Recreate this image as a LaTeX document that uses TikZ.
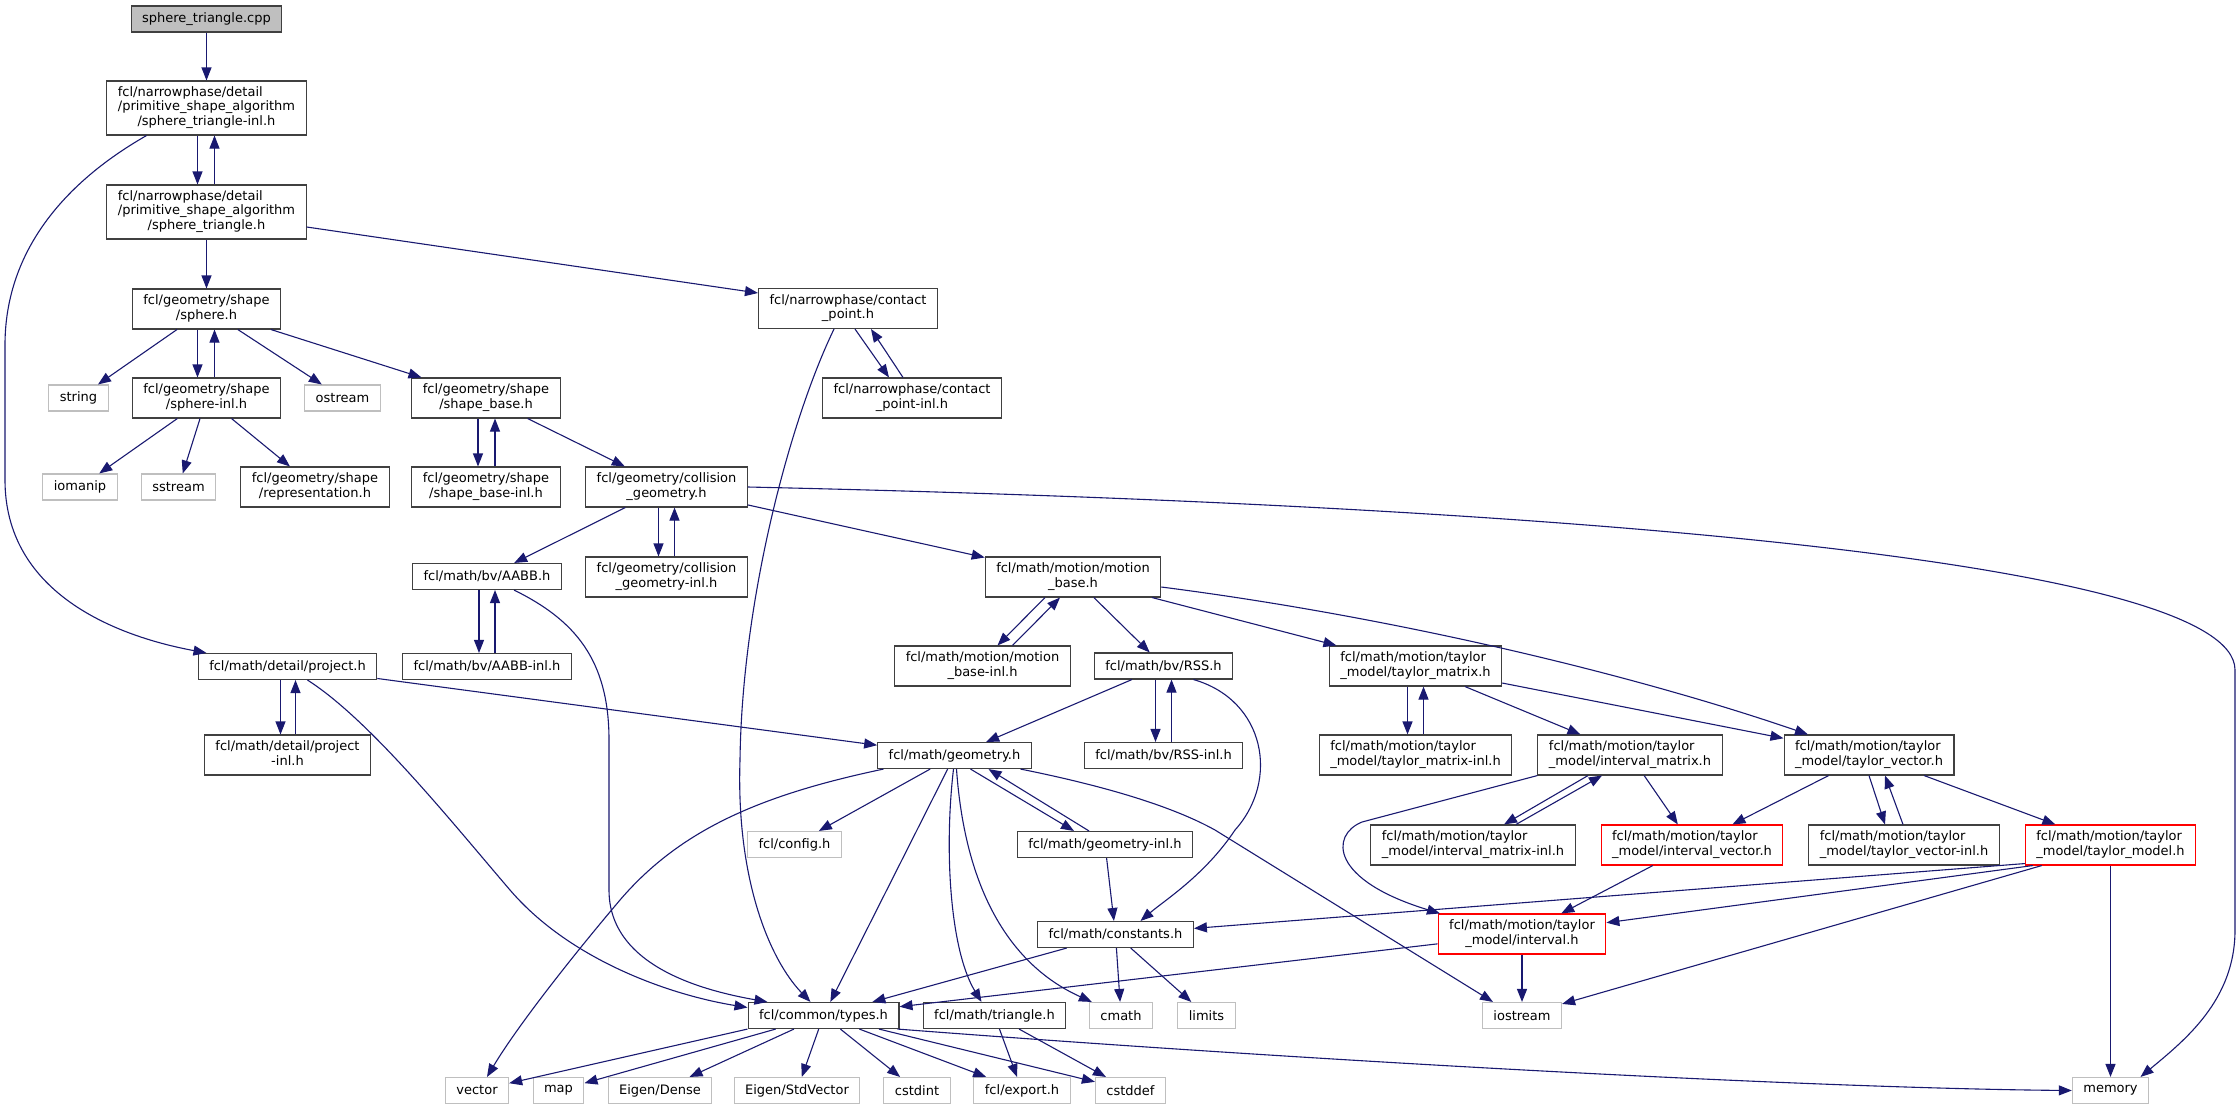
\documentclass[tikz,border=0pt]{standalone}
\usepackage{fontspec}
\setmainfont{DejaVu Sans}
\usetikzlibrary{arrows.meta}
\definecolor{linkblue}{HTML}{191970}
\definecolor{sysgray}{HTML}{BFBFBF}
\definecolor{boxgray}{HTML}{404040}
\definecolor{boxred}{HTML}{FF0000}
\newcommand{\hdrtwo}[2]{\begin{tabular}{@{}l@{}}#1\\\multicolumn{1}{@{}c@{}}{#2}\end{tabular}}
\newcommand{\hdrthree}[3]{\begin{tabular}{@{}l@{}}#1\\#2\\\multicolumn{1}{@{}c@{}}{#3}\end{tabular}}
\begin{document}
\begin{tikzpicture}[x=1pt,y=-1pt,
  hdr/.style={draw=boxgray, line width=1.1pt, rectangle, inner xsep=11pt, inner ysep=2pt,
    align=center, font=\fontsize{13pt}{14.5pt}\selectfont},
  one/.style={hdr, minimum height=26pt},
  two/.style={hdr, minimum height=40pt},
  three/.style={hdr, minimum height=54pt},
  sys/.style={one, draw=sysgray},
  trunc/.style={two, draw=boxred},
  link/.style={draw=linkblue, line width=1.1pt, -{Triangle[length=13pt,width=10pt]}}]
\useasboundingbox (0,0) rectangle (2240,1109);
% rows of the include graph
\node[one, fill=sysgray] (cpp) at (206.5,19) {sphere\_triangle.cpp};
\node[three] (stinl) at (206.5,108) {\hdrthree{fcl/narrowphase/detail}{/primitive\_shape\_algorithm}{/sphere\_triangle-inl.h}};
\node[three] (stri) at (206.5,212) {\hdrthree{fcl/narrowphase/detail}{/primitive\_shape\_algorithm}{/sphere\_triangle.h}};
\node[two] (sphere) at (206.5,309) {\hdrtwo{fcl/geometry/shape}{/sphere.h}};
\node[two] (cpoint) at (848,308.5) {\hdrtwo{fcl/narrowphase/contact}{\_point.h}};
\node[sys] (str) at (78.5,398) {string};
\node[two] (sphinl) at (206.5,398) {\hdrtwo{fcl/geometry/shape}{/sphere-inl.h}};
\node[sys] (ostr) at (342.5,398) {ostream};
\node[two] (shbase) at (486,398) {\hdrtwo{fcl/geometry/shape}{/shape\_base.h}};
\node[two] (cpinl) at (912,398) {\hdrtwo{fcl/narrowphase/contact}{\_point-inl.h}};
\node[sys] (ioman) at (80,487) {iomanip};
\node[sys] (sstr) at (178.5,487) {sstream};
\node[two] (repr) at (315,487) {\hdrtwo{fcl/geometry/shape}{/representation.h}};
\node[two] (shbinl) at (486,487) {\hdrtwo{fcl/geometry/shape}{/shape\_base-inl.h}};
\node[two] (colgeo) at (666.5,487) {\hdrtwo{fcl/geometry/collision}{\_geometry.h}};
\node[one] (aabb) at (487,576.5) {fcl/math/bv/AABB.h};
\node[two] (colinl) at (666.5,577) {\hdrtwo{fcl/geometry/collision}{\_geometry-inl.h}};
\node[two] (mbase) at (1073,577) {\hdrtwo{fcl/math/motion/motion}{\_base.h}};
\node[one] (proj) at (287.5,666.5) {fcl/math/detail/project.h};
\node[one] (aabbinl) at (487,666.5) {fcl/math/bv/AABB-inl.h};
\node[two] (mbinl) at (982.5,666) {\hdrtwo{fcl/math/motion/motion}{\_base-inl.h}};
\node[one] (rss) at (1163.5,666) {fcl/math/bv/RSS.h};
\node[two] (tmat) at (1415.5,666) {\hdrtwo{fcl/math/motion/taylor}{\_model/taylor\_matrix.h}};
\node[two] (projinl) at (287.5,755) {\hdrtwo{fcl/math/detail/project}{-inl.h}};
\node[one] (geom) at (954.5,755.5) {fcl/math/geometry.h};
\node[one] (rssinl) at (1163.5,755.5) {fcl/math/bv/RSS-inl.h};
\node[two] (tminl) at (1415.5,755) {\hdrtwo{fcl/math/motion/taylor}{\_model/taylor\_matrix-inl.h}};
\node[two] (imat) at (1630,755) {\hdrtwo{fcl/math/motion/taylor}{\_model/interval\_matrix.h}};
\node[two] (tvec) at (1869,755) {\hdrtwo{fcl/math/motion/taylor}{\_model/taylor\_vector.h}};
\node[sys] (config) at (794.5,844.5) {fcl/config.h};
\node[one] (geominl) at (1105,844.5) {fcl/math/geometry-inl.h};
\node[two] (iminl) at (1473,845) {\hdrtwo{fcl/math/motion/taylor}{\_model/interval\_matrix-inl.h}};
\node[trunc] (ivec) at (1692,845) {\hdrtwo{fcl/math/motion/taylor}{\_model/interval\_vector.h}};
\node[two] (tvinl) at (1904,845) {\hdrtwo{fcl/math/motion/taylor}{\_model/taylor\_vector-inl.h}};
\node[trunc] (tmodel) at (2110.5,845) {\hdrtwo{fcl/math/motion/taylor}{\_model/taylor\_model.h}};
\node[one] (consts) at (1115.5,934.5) {fcl/math/constants.h};
\node[trunc] (interval) at (1522,934) {\hdrtwo{fcl/math/motion/taylor}{\_model/interval.h}};
\node[one] (types) at (823.5,1015.5) {fcl/common/types.h};
\node[one] (tri) at (994.5,1015.5) {fcl/math/triangle.h};
\node[sys] (cmath) at (1121,1015.5) {cmath};
\node[sys] (limits) at (1206.5,1015.5) {limits};
\node[sys] (iostr) at (1522,1015.5) {iostream};
\node[sys] (vector) at (477,1090.5) {vector};
\node[sys] (map) at (558.5,1090.5) {map};
\node[sys] (dense) at (660,1090.5) {Eigen/Dense};
\node[sys] (stdvec) at (797,1090.5) {Eigen/StdVector};
\node[sys] (cstdint) at (917,1090.5) {cstdint};
\node[sys] (export) at (1022,1090.5) {fcl/export.h};
\node[sys] (cstddef) at (1130.5,1090.5) {cstddef};
\node[sys] (memory) at (2110.5,1090.5) {memory};
% includes
\draw[link] (cpp) -- (stinl);
\draw[link] ([xshift=-9pt]stinl.south) -- ([xshift=-9pt]stri.north);
\draw[link] ([xshift=8pt]stri.north) -- ([xshift=8pt]stinl.south);
\draw[link] ([xshift=-60pt]stinl.south) .. controls (60,185) and (5,255) .. (5,345) -- (5,480) .. controls (5,590) and (110,635) .. ([xshift=-81pt]proj.north);
\draw[link] (stri) -- (sphere);
\draw[link] ([yshift=-15pt]stri.east) -- ([yshift=15.5pt]cpoint.west);
\draw[link] (sphere) -- (str);
\draw[link] ([xshift=-9pt]sphere.south) -- ([xshift=-9pt]sphinl.north);
\draw[link] ([xshift=8pt]sphinl.north) -- ([xshift=8pt]sphere.south);
\draw[link] (sphere) -- (ostr);
\draw[link] (sphere) -- (shbase);
\draw[link] (sphinl) -- (ioman);
\draw[link] (sphinl) -- (sstr);
\draw[link] (sphinl) -- (repr);
\draw[link] ([xshift=-8pt]shbase.south) -- ([xshift=-8pt]shbinl.north);
\draw[link] ([xshift=9pt]shbinl.north) -- ([xshift=9pt]shbase.south);
\draw[link] (shbase) -- (colgeo);
\draw[link] (colgeo) -- (aabb);
\draw[link] ([xshift=-8pt]colgeo.south) -- ([xshift=-8pt]colinl.north);
\draw[link] ([xshift=8pt]colinl.north) -- ([xshift=8pt]colgeo.south);
\draw[link] (colgeo) -- (mbase);
\draw[link] (colgeo.east) .. controls (1550,505) and (2235,560) .. (2235,670) -- (2235,930) .. controls (2235,1000) and (2185,1040) .. ([xshift=30pt]memory.north);
\draw[link] ([xshift=-14pt]cpoint.south) .. controls (790,420) and (742,600) .. (740,760) .. controls (736,880) and (770,960) .. ([xshift=-13pt]types.north);
\draw[link] ([xshift=7pt]cpoint.south) -- ([xshift=-23pt]cpinl.north);
\draw[link] ([xshift=-9pt]cpinl.north) -- ([xshift=23pt]cpoint.south);
\draw[link] ([xshift=-8pt]aabb.south) -- ([xshift=-8pt]aabbinl.north);
\draw[link] ([xshift=8pt]aabbinl.north) -- ([xshift=8pt]aabb.south);
\draw[link] ([xshift=27pt]aabb.south) .. controls (575,620) and (609,660) .. (609,740) -- (609,890) .. controls (609,965) and (700,990) .. ([xshift=-56pt]types.north);
\draw[link] ([xshift=-28pt]mbase.south) -- ([xshift=15pt]mbinl.north);
\draw[link] ([xshift=30pt]mbinl.north) -- ([xshift=-13pt]mbase.south);
\draw[link] (mbase) -- (rss);
\draw[link] (mbase) -- (tmat);
\draw[link] ([yshift=-10pt]mbase.east) .. controls (1380,615) and (1620,670) .. ([xshift=-61pt]tvec.north);
\draw[link] ([xshift=-7pt]proj.south) -- ([xshift=-7pt]projinl.north);
\draw[link] ([xshift=8pt]projinl.north) -- ([xshift=8pt]proj.south);
\draw[link] (proj) -- (geom);
\draw[link] ([xshift=20pt]proj.south) .. controls (370,720) and (450,820) .. (510,890) .. controls (570,960) and (670,995) .. ([yshift=8pt]types.west);
\draw[link] (rss) -- (geom);
\draw[link] ([xshift=-8pt]rss.south) -- ([xshift=-8pt]rssinl.north);
\draw[link] ([xshift=8pt]rssinl.north) -- ([xshift=8pt]rss.south);
\draw[link] ([xshift=30pt]rss.south) .. controls (1265,700) and (1280,780) .. (1235,830) .. controls (1205,875) and (1165,900) .. ([xshift=25pt]consts.north);
\draw[link] ([xshift=-8pt]tmat.south) -- ([xshift=-8pt]tminl.north);
\draw[link] ([xshift=8pt]tminl.north) -- ([xshift=8pt]tmat.south);
\draw[link] (tmat) -- (imat);
\draw[link] (tmat) -- (tvec);
\draw[link] ([xshift=-42pt]imat.south) -- ([xshift=31pt]iminl.north);
\draw[link] ([xshift=43pt]iminl.north) -- ([xshift=-28pt]imat.south);
\draw[link] (imat) -- (ivec);
\draw[link] (imat.south west) -- (1362,822) .. controls (1330,835) and (1330,880) .. ([xshift=-82pt]interval.north);
\draw[link] (tvec) -- (ivec);
\draw[link] (tvec.south) -- ([xshift=-19pt]tvinl.north);
\draw[link] ([xshift=-1pt]tvinl.north) -- ([xshift=16pt]tvec.south);
\draw[link] (tvec) -- (tmodel);
\draw[link] ([xshift=-71pt]geom.south) .. controls (760,795) and (680,830) .. (620,900) .. controls (565,965) and (515,1030) .. ([xshift=10pt]vector.north);
\draw[link] (geom) -- (config);
\draw[link] (geom) -- (types);
\draw[link] ([xshift=-1pt]geom.south) .. controls (944,850) and (950,950) .. ([xshift=-13pt]tri.north);
\draw[link] ([xshift=2pt]geom.south) .. controls (965,890) and (1010,965) .. ([xshift=3pt]cmath.north west);
\draw[link] ([xshift=16pt]geom.south) -- ([xshift=-31pt]geominl.north);
\draw[link] ([xshift=-16pt]geominl.north) -- ([xshift=34pt]geom.south);
\draw[link] ([xshift=66pt]geom.south) .. controls (1100,785) and (1170,805) .. (1215,830) -- ([xshift=-29pt]iostr.north);
\draw[link] (geominl) -- (consts);
\draw[link] (ivec) -- (interval);
\draw[link] ([yshift=2pt]tmodel.south west) -- (consts);
\draw[link] ([xshift=8pt]tmodel.south west) -- (interval);
\draw[link] ([xshift=17pt]tmodel.south west) -- (iostr);
\draw[link] (tmodel) -- (memory);
\draw[link] (consts) -- (types);
\draw[link] (consts) -- (cmath);
\draw[link] (consts) -- (limits);
\draw[link] (interval) -- (types);
\draw[link] (interval) -- (iostr);
\draw[link] (types.south west) -- (vector);
\draw[link] (types) -- (map);
\draw[link] (types) -- (dense);
\draw[link] (types) -- (stdvec);
\draw[link] (types) -- (cstdint);
\draw[link] (types) -- (export);
\draw[link] (types) -- (cstddef);
\draw[link] ([xshift=-2pt]types.south east) .. controls (1300,1060) and (1800,1088) .. (memory.west);
\draw[link] (tri) -- (export);
\draw[link] (tri) -- (cstddef);
\end{tikzpicture}
\end{document}
